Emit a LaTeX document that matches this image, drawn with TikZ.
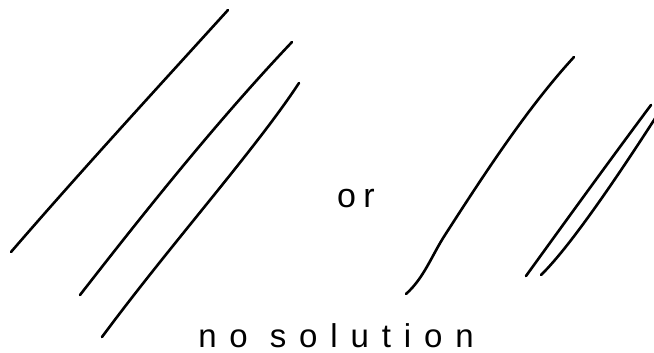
\documentclass[tikz,border=0pt]{standalone}
\usepackage{fontspec}
\setmainfont{Liberation Sans}
\begin{document}
\begin{tikzpicture}[x=1pt,y=-1pt,
  stroke/.style={line width=2.6pt,line cap=round,line join=round,black},
  hand/.style={inner sep=0pt,font=\fontsize{33}{36}\selectfont\addfontfeatures{LetterSpace=39}}]
\useasboundingbox[fill=white] (0,0) rectangle (654,353);
% left group of three parallel lines
\coordinate (a1) at (11,252); \coordinate (a2) at (228,10);
\coordinate (b1) at (80,295); \coordinate (b2) at (292,42);
\coordinate (c1) at (102,337); \coordinate (c2) at (299,83);
\draw[stroke] (a1) .. controls (80,172) and (160,85) .. (a2);
\draw[stroke] (b1) .. controls (150,205) and (220,118) .. (b2);
\draw[stroke] (c1) .. controls (170,245) and (255,150) .. (c2);
% right group
\coordinate (d1) at (406,294); \coordinate (d2) at (574,57);
\coordinate (e1) at (526,276); \coordinate (e2) at (651,105);
\coordinate (f1) at (541,275); \coordinate (f2) at (656,117);
\draw[stroke] (d1) .. controls (424,278) and (432,255) .. (445,235) .. controls (490,165) and (530,105) .. (d2);
\draw[stroke] (e1) .. controls (565,222) and (610,160) .. (e2);
\draw[stroke] (f1) .. controls (572,245) and (625,165) .. (f2);
% texts
\node[hand,font=\fontsize{34}{38}\selectfont\addfontfeatures{LetterSpace=22},anchor=base] (or) at (356,207) {or};
\node[hand,anchor=base] (nosol) at (336,347) {no solution};
\end{tikzpicture}
\end{document}
